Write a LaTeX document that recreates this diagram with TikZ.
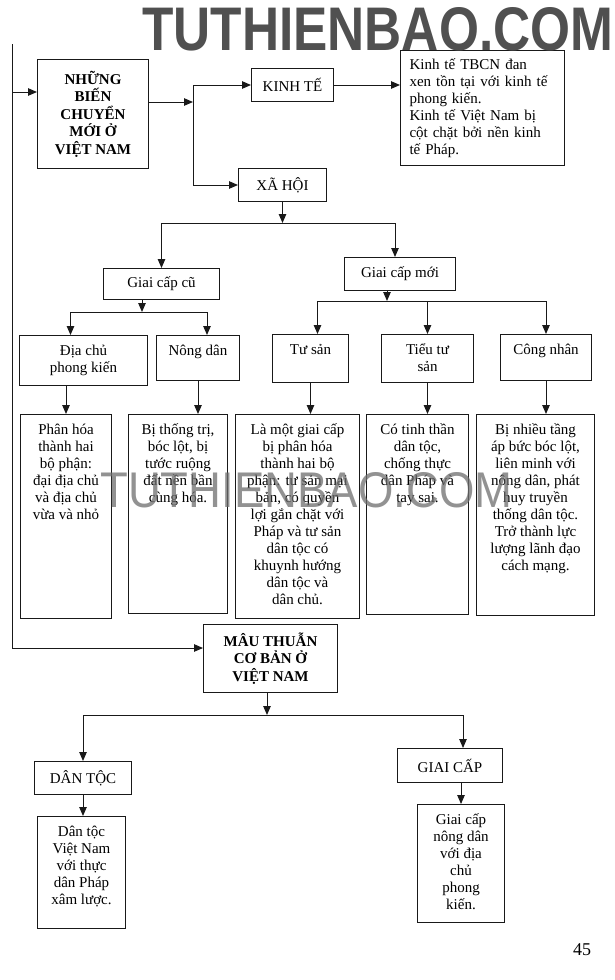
\documentclass[tikz,border=0pt]{standalone}
\usepackage{fontspec}
\setmainfont{Liberation Serif}
\newfontfamily\wmfont{Liberation Sans}
\usepackage{graphicx}
\usepackage{tikz}
\usetikzlibrary{arrows.meta, positioning, calc}
\definecolor{inkblack}{RGB}{25,25,25}
\definecolor{wmgray}{RGB}{80,80,80}
\definecolor{wmlight}{RGB}{110,110,110}
\newcommand{\toptext}[3]{\begin{minipage}[t][#2][t]{#1}\centering\strut#3\end{minipage}}
\tikzset{
  boxline/.style={rectangle,draw=inkblack,line width=1pt,font=\fontsize{15}{17}\selectfont},
  headbox/.style={boxline,align=center,font=\fontsize{15}{17.5}\selectfont\bfseries,inner sep=4pt,anchor=north west},
  catbox/.style={boxline,align=center,inner sep=3pt,anchor=north west},
  toptextbox/.style={boxline,inner xsep=0pt,inner ysep=8pt,anchor=north west},
  notebox/.style={boxline,align=left,text width=146pt,inner xsep=9pt,anchor=north west},
  arr/.style={-{Triangle[length=9pt,width=7.5pt]},line width=1pt,draw=inkblack},
  plainline/.style={line width=1pt,draw=inkblack},
  wmark/.style={inner sep=0pt,font=\wmfont,anchor=north west}
}

\begin{document}
\begin{tikzpicture}[x=1pt,y=-1pt]
  \useasboundingbox (0,0) rectangle (615,980);
  \fill[white] (0,0) rectangle (615,980);

  % top part
  \node[headbox,minimum width=111pt,minimum height=109pt] (nhung) at (37,59)
      {NHỮNG\\BIẾN\\CHUYỂN\\MỚI Ở\\VIỆT NAM};
  \node[catbox,minimum width=82pt,minimum height=33pt] (kt) at (251,68) {KINH TẾ};
  \node[notebox,minimum height=115pt] (ktd) at (400,50)
      {Kinh tế TBCN đan\\xen tồn tại với kinh tế\\phong kiến.\\Kinh tế Việt Nam bị\\cột chặt bởi nền kinh\\tế Pháp.};
  \node[catbox,minimum width=88pt,minimum height=33pt] (xh) at (238,168) {XÃ HỘI};

  % classes
  \node[catbox,minimum width=116pt,minimum height=31pt] (gcc) at (103,268) {Giai cấp cũ};
  \node[catbox,minimum width=111pt,minimum height=33pt] (gcm) at (344,257) {Giai cấp mới};
  \node[toptextbox] (dc) at (19,335) {\toptext{128pt}{34pt}{Địa chủ\\phong kiến}};
  \node[toptextbox] (nd) at (156,335) {\toptext{83pt}{29pt}{Nông dân}};
  \node[toptextbox] (ts) at (272,334) {\toptext{76pt}{32pt}{Tư sản}};
  \node[toptextbox] (tts) at (381,334) {\toptext{92pt}{32pt}{Tiểu tư\\sản}};
  \node[toptextbox] (cn) at (500,334) {\toptext{91pt}{30pt}{Công nhân}};

  \node[toptextbox] (dd1) at (20,414) {\toptext{91pt}{188pt}{Phân hóa\\thành hai\\bộ phận:\\đại địa chủ\\và địa chủ\\vừa và nhỏ}};
  \node[toptextbox] (dd2) at (128,414) {\toptext{99pt}{183pt}{Bị thống trị,\\bóc lột, bị\\tước ruộng\\đất nền bần\\cùng hóa.}};
  \node[toptextbox] (dd3) at (235,414) {\toptext{124pt}{188pt}{Là một giai cấp\\bị phân hóa\\thành hai bộ\\phận: tư sản mại\\bản, có quyền\\lợi gắn chặt với\\Pháp và tư sản\\dân tộc có\\khuynh hướng\\dân tộc và\\dân chủ.}};
  \node[toptextbox] (dd4) at (366,414) {\toptext{102pt}{184pt}{Có tinh thần\\dân tộc,\\chống thực\\dân Pháp và\\tay sai.}};
  \node[toptextbox] (dd5) at (476,414) {\toptext{118pt}{185pt}{Bị nhiều tầng\\áp bức bóc lột,\\liên minh với\\nông dân, phát\\huy truyền\\thống dân tộc.\\Trở thành lực\\lượng lãnh đạo\\cách mạng.}};

  % bottom part
  \node[headbox,minimum width=134pt,minimum height=68pt] (mt) at (203,624)
      {MÂU THUẪN\\CƠ BẢN Ở\\VIỆT NAM};
  \node[catbox,minimum width=97pt,minimum height=33pt] (dt) at (34,761) {DÂN TỘC};
  \node[catbox,minimum width=105pt,minimum height=34pt] (gc) at (397,748) {GIAI CẤP};
  \node[toptextbox] (dtd) at (37,816) {\toptext{88pt}{96pt}{Dân tộc\\Việt Nam\\với thực\\dân Pháp\\xâm lược.}};
  \node[toptextbox] (gcd) at (417,804) {\toptext{87pt}{102pt}{Giai cấp\\nông dân\\với địa\\chủ\\phong\\kiến.}};

  \node[font=\fontsize{18}{20}\selectfont] (pnum) at (582,950) {45};

  % junctions
  \coordinate (lt) at (12,44);
  \coordinate (lj) at (12,92);
  \coordinate (lb) at (12,648);
  \coordinate (jx) at (193,102);
  \coordinate (sj) at (278,223);
  \coordinate (cj) at (142,312);
  \coordinate (mj) at (387,301);
  \coordinate (bj) at (267,715);

  \draw[plainline] (lt) -- (lb);
  \draw[arr] (lj) -- (nhung.west |- lj);
  \draw[arr] (lb) -- (mt.west |- lb);
  \draw[arr] (nhung.east |- jx) -- (jx);
  \draw[arr] (jx) |- (kt.west);
  \draw[arr] (jx) |- (xh.west);
  \draw[arr] (kt.east) -- (ktd.west |- kt.east);

  \draw[arr] (xh.south) -- (xh.south |- sj);
  \draw[arr] (xh.south |- sj) -| (gcc.north);
  \draw[arr] (xh.south |- sj) -| ([xshift=-5pt]gcm.north);
  \draw[arr] (gcc.south -| cj) -- (cj);
  \draw[arr] (cj) -| ([xshift=-13pt]dc.north);
  \draw[arr] (cj) -| ([xshift=9pt]nd.north);
  \draw[arr] (gcm.south -| mj) -- (mj);
  \draw[arr] (mj) -| ([xshift=7pt]ts.north);
  \draw[arr] (mj) -| (tts.north);
  \draw[arr] (mj) -| (cn.north);

  \draw[arr] (dc.south -| dd1.north) -- (dd1.north);
  \draw[arr] (nd.south) -- (nd.south |- dd2.north);
  \draw[arr] (ts.south) -- (ts.south |- dd3.north);
  \draw[arr] (tts.south) -- (tts.south |- dd4.north);
  \draw[arr] (cn.south) -- (cn.south |- dd5.north);

  \draw[arr] (mt.south -| bj) -- (bj);
  \draw[arr] (bj) -| (dt.north);
  \draw[arr] (bj) -| ([xshift=13pt]gc.north);
  \draw[arr] (dt.south) -- (dt.south |- dtd.north);
  \draw[arr] (gcd.north |- gc.south) -- (gcd.north);

  % watermarks
  \node[wmark,text=wmgray] (wmtop) at (142,7) {\resizebox{471pt}{43pt}{\bfseries TUTHIENBAO.COM}};
  \node[wmark,text=wmlight,opacity=0.75] (wmmid) at (100,472) {\resizebox{412pt}{35pt}{TUTHIENBAO.COM}};
\end{tikzpicture}
\end{document}
